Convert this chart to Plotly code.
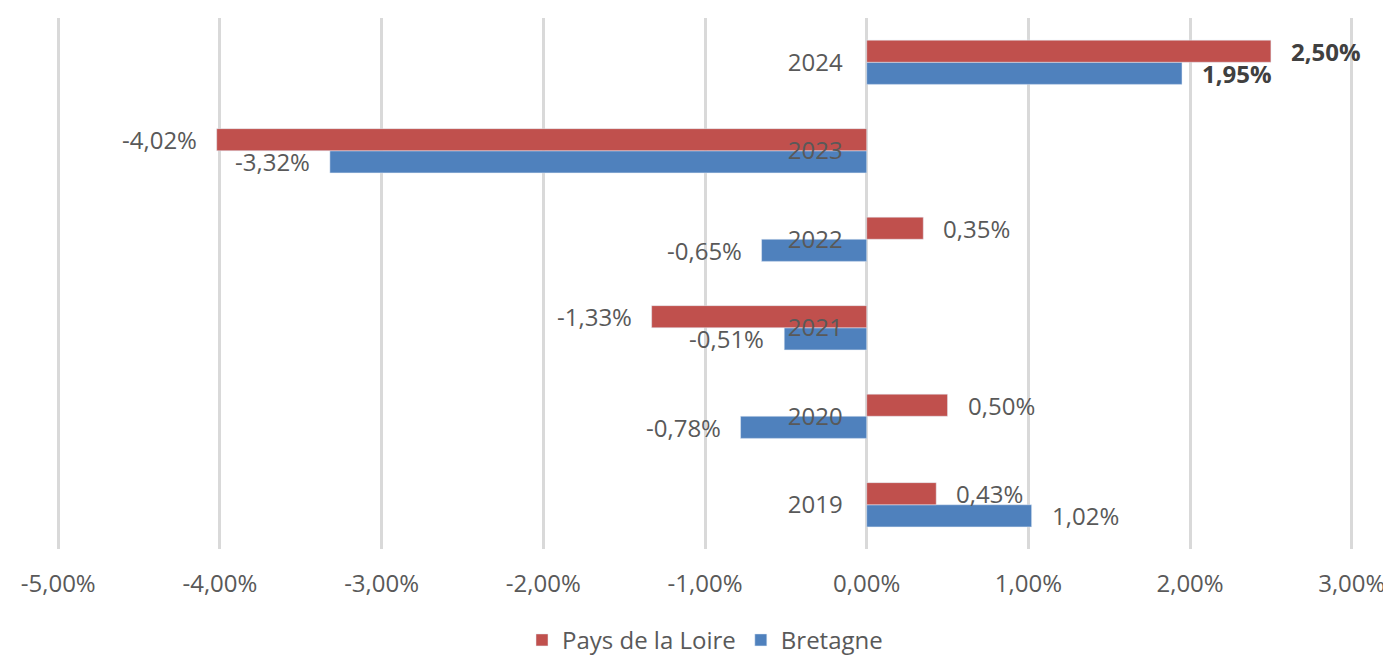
import plotly.graph_objects as go

years = ["2019", "2020", "2021", "2022", "2023", "2024"]
pays_de_la_loire = [0.43, 0.50, -1.33, 0.35, -4.02, 2.50]
bretagne = [1.02, -0.78, -0.51, -0.65, -3.32, 1.95]
x_ticks = [-5, -4, -3, -2, -1, 0, 1, 2, 3]

RED = "#C0504D"
BLUE = "#4F81BD"
GREY = "#595959"
FONT = "Open Sans"
FS = 24

def fmt(v):
    return f"{v:.2f}".replace(".", ",") + "%"

fig = go.Figure()
fig.add_trace(go.Bar(y=years, x=bretagne, orientation="h", name="Bretagne",
                     marker=dict(color=BLUE), legendrank=2))
fig.add_trace(go.Bar(y=years, x=pays_de_la_loire, orientation="h", name="Pays de la Loire",
                     marker=dict(color=RED), legendrank=1))

# data labels
annotations = []
for series, off in ((pays_de_la_loire, 0.125), (bretagne, -0.125)):
    for i, (yr, v) in enumerate(zip(years, series)):
        bold = yr == "2024"
        txt = fmt(v)
        if bold:
            txt = "<b>" + txt + "</b>"
        annotations.append(dict(
            x=v, y=i + off, xref="x", yref="y", text=txt, showarrow=False,
            xanchor="left" if v >= 0 else "right",
            xshift=18 if v >= 0 else -18,
            font=dict(family=FONT, size=FS, color="#404040" if bold else GREY),
        ))

fig.update_layout(
    width=1391, height=659,
    margin=dict(l=47, r=44, t=10, b=118, autoexpand=False),
    plot_bgcolor="white", paper_bgcolor="white",
    barmode="group", bargap=0.5, bargroupgap=0,
    font=dict(family=FONT, size=FS, color=GREY),
    showlegend=True,
    legend=dict(orientation="h", x=0.5, xanchor="center", y=-0.172, yanchor="middle",
                font=dict(family=FONT, size=FS, color=GREY), traceorder="normal",
                itemwidth=30),
    annotations=annotations,
    xaxis=dict(range=[-5.02, 3.02], tickvals=x_ticks, ticktext=[fmt(t) for t in x_ticks],
               showgrid=True, gridcolor="#D9D9D9", gridwidth=2.5,
               zeroline=True, zerolinecolor="#D9D9D9", zerolinewidth=2.5,
               showline=False, ticks="", ticklabelstandoff=18, automargin=False,
               tickfont=dict(family=FONT, size=FS, color=GREY)),
    yaxis=dict(categoryorder="array", categoryarray=years, range=[-0.5, 5.5],
               anchor="free", position=5.02 / 8.04, showgrid=False, zeroline=False,
               showline=False, ticks="", ticklabelstandoff=24, automargin=False,
               tickfont=dict(family=FONT, size=FS, color=GREY)),
)

fig.write_html("out.html")
